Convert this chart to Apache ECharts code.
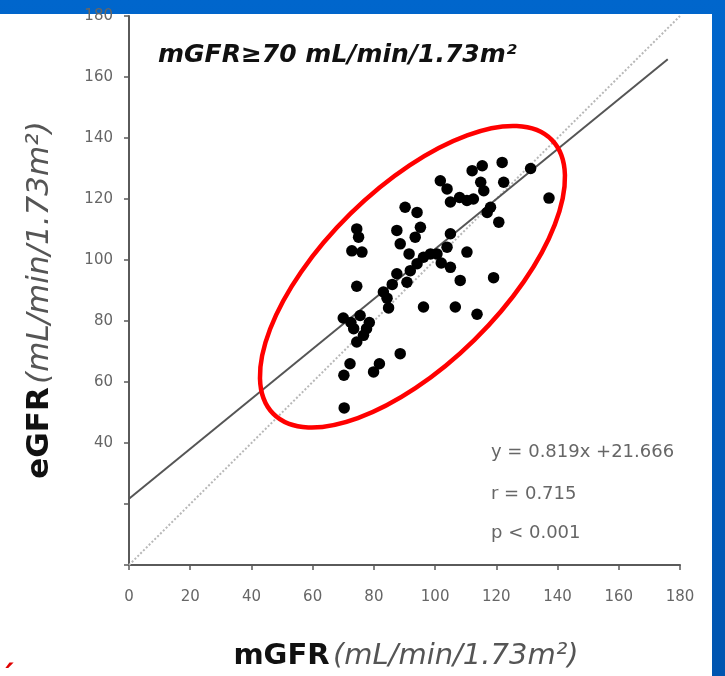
<!DOCTYPE html>
<html><head><meta charset="utf-8">
<script src="https://cdn.jsdelivr.net/npm/echarts@6/dist/echarts.min.js"></script>
<style>
html,body{margin:0;padding:0;width:725px;height:676px;overflow:hidden;background:linear-gradient(#0066cc,#0055b0);}
#panel{position:absolute;left:0;top:14px;width:712px;height:662px;background:#fff;}
#chart{position:absolute;left:0;top:0;width:725px;height:676px;}
</style></head><body>
<div id="panel"></div><div id="chart"></div>
<script>
const mGFR = [70.3, 70.2, 72.2, 79.9, 81.8, 88.6,
  70.0, 72.5, 75.5, 73.4, 76.6, 74.4, 77.6, 78.5,
  74.4, 74.4, 75.0, 72.8, 76.1, 83.1, 84.3, 84.8, 86.0,
  96.2, 106.6, 113.7, 108.2, 119.1, 110.4,
  87.5, 90.8, 91.9, 94.1, 96.2, 98.5, 100.6, 103.9, 105.0, 105.0, 102.0,
  90.2, 94.1, 87.5, 88.6, 95.2, 93.5, 91.5,
  101.7, 103.9, 105.0, 108.0, 110.4, 112.1, 115.4, 114.9, 115.9, 117.0, 118.1, 120.8,
  121.9, 122.4, 131.2, 137.2, 112.5];
const eGFR = [51.5, 62.2, 66.0, 63.3, 66.0, 69.3,
  81.0, 79.5, 81.8, 77.5, 75.3, 73.1, 77.5, 79.5,
  91.4, 110.2, 107.5, 103.0, 102.6, 89.5, 87.5, 84.3, 92.0,
  84.6, 84.6, 82.2, 93.3, 94.2, 102.6,
  95.5, 92.7, 96.5, 98.8, 100.9, 102.0, 102.0, 104.2, 108.6, 97.6, 99.0,
  117.3, 115.6, 109.7, 105.3, 110.7, 107.5, 102.0,
  126.0, 123.3, 119.0, 120.5, 119.5, 129.3, 130.9, 125.5, 122.7, 115.6, 117.3, 112.4,
  132.0, 125.5, 130.0, 120.3, 120.0];
// regression line y = 0.819x + 21.666 (end points)
const fitX = [0, 176];
const fitY = [21.7, 165.8];
// line of identity
const idX = [0, 180];
const idY = [0, 180];
const xTickValues = [0, 20, 40, 60, 80, 100, 120, 140, 160, 180];
const yLabeledTicks = [40, 60, 80, 100, 120, 140, 160, 180];
const titleText = 'mGFR\u226570 mL/min/1.73m\u00b2';
const statLines = ['y = 0.819x +21.666', 'r = 0.715', 'p < 0.001'];
// annotation ellipse (data units): centre, semi-axes, tilt in degrees (counter-clockwise)
const ellipseCenter = [92.6, 94.5];
const ellipseSemi = [63.8, 28.9];
const ellipseTilt = 44.5;

const FONT = 'DejaVu Sans';
const chart = echarts.init(document.getElementById('chart'), null, {renderer: 'canvas'});
const axisCol = '#5a5a5a';
const option = {
  animation: false,
  backgroundColor: 'transparent',
  grid: {left: 129, right: 45, top: 16, bottom: 111, containLabel: false},
  xAxis: {
    type: 'value', min: 0, max: 180, interval: 20,
    axisLine: {show: true, onZero: false, lineStyle: {color: axisCol, width: 2}},
    axisTick: {show: true, length: 5, lineStyle: {color: axisCol, width: 1.5}},
    splitLine: {show: false},
    axisLabel: {margin: 25, color: '#666', fontFamily: FONT, fontSize: 15,
      formatter: v => xTickValues.includes(v) ? String(v) : ''}
  },
  yAxis: {
    type: 'value', min: 0, max: 180, interval: 20,
    axisLine: {show: true, onZero: false, lineStyle: {color: axisCol, width: 2}},
    axisTick: {show: true, length: 5, lineStyle: {color: axisCol, width: 1.5}},
    splitLine: {show: false},
    axisLabel: {margin: 16, color: '#666', fontFamily: FONT, fontSize: 15,
      formatter: v => yLabeledTicks.includes(v) ? String(v) : ''}
  },
  series: [
    {type: 'line', data: idX.map((x, i) => [x, idY[i]]), symbol: 'none',
      lineStyle: {color: '#b8b8b8', width: 2, type: 'dotted'}, z: 1, silent: true},
    {type: 'line', data: fitX.map((x, i) => [x, fitY[i]]), symbol: 'none',
      lineStyle: {color: '#555', width: 2}, z: 2, silent: true},
    {type: 'scatter', data: mGFR.map((x, i) => [x, eGFR[i]]), symbol: 'circle',
      symbolSize: 11.5, itemStyle: {color: '#000', opacity: 1}, z: 3}
  ]
};
chart.setOption(option);

const c = chart.convertToPixel({gridIndex: 0}, ellipseCenter);
const o = chart.convertToPixel({gridIndex: 0}, [0, 0]);
const ax = chart.convertToPixel({gridIndex: 0}, [ellipseSemi[0], 0]);
const rx = ax[0] - o[0];
const ry = rx * ellipseSemi[1] / ellipseSemi[0];

chart.setOption({
  graphic: [
    {type: 'ellipse', x: c[0], y: c[1], rotation: ellipseTilt * Math.PI / 180,
      shape: {cx: 0, cy: 0, rx: rx, ry: ry},
      style: {fill: 'none', stroke: '#ff0000', lineWidth: 4.5}, z: 10},
    {type: 'text', x: 158, y: 55,
      style: {text: titleText, fontFamily: FONT, fontSize: 25, fontWeight: 'bold', fontStyle: 'italic',
        fill: '#111', align: 'left', verticalAlign: 'middle'}},
    ...statLines.map((t, i) => ({type: 'text', x: 491, y: [452, 494, 533][i],
      style: {text: t, fontFamily: FONT, fontSize: 18, fill: '#666', align: 'left', verticalAlign: 'middle'}})),
    {type: 'text', x: 406, y: 656,
      style: {text: '{b|mGFR} {i|(mL/min/1.73m\u00b2)}', align: 'center', verticalAlign: 'middle',
        rich: {
          b: {fontFamily: FONT, fontSize: 29, fontWeight: 'bold', fill: '#111', color: '#111'},
          i: {fontFamily: FONT, fontSize: 29, fontStyle: 'italic', fill: '#555', color: '#555'}
        }}},
    {type: 'text', x: 40, y: 300, rotation: Math.PI / 2,
      style: {text: '{b|eGFR} {i|(mL/min/1.73m\u00b2)}', align: 'center', verticalAlign: 'middle',
        rich: {
          b: {fontFamily: FONT, fontSize: 31, fontWeight: 'bold', fill: '#111', color: '#111'},
          i: {fontFamily: FONT, fontSize: 31, fontStyle: 'italic', fill: '#555', color: '#555'}
        }}},
    {type: 'text', x: 0, y: 664,
      style: {text: '\u02ca', fontFamily: FONT, fontSize: 30, fontWeight: 'bold', fill: '#e00000',
        align: 'left', verticalAlign: 'top'}}
  ]
});
</script></body></html>
